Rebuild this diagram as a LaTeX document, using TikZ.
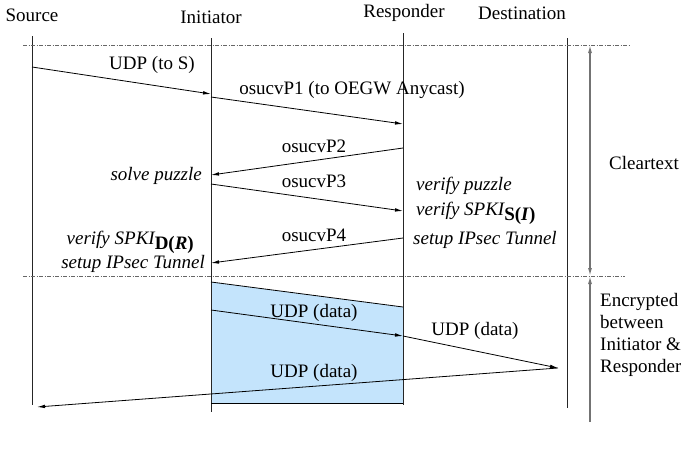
\documentclass[tikz,border=0pt]{standalone}
\usepackage{fontspec}
\setmainfont{Liberation Serif}
\usetikzlibrary{arrows.meta}
\definecolor{boxblue}{RGB}{196,228,252}
\begin{document}
\begin{tikzpicture}[x=1pt,y=-1pt,
  every node/.style={font=\fontsize{19}{22}\selectfont, inner sep=0pt},
  life/.style={line width=0.9pt, black!85},
  msg/.style={line width=0.8pt, -{Latex[length=8pt,width=3.6pt]}},
  plain/.style={line width=0.8pt},
  sepline/.style={line width=0.7pt, black!60, dash pattern=on 4pt off 1.5pt on 1pt off 1.5pt},
  spanarrow/.style={line width=1.3pt, black!55},
  act/.style={font=\fontsize{19}{22}\selectfont\itshape}]
\useasboundingbox (0,0) rectangle (681,450);

% blue encrypted region
\fill[boxblue] (211,282) -- (403,307) -- (403,403) -- (211,403) -- cycle;

% entity labels
\node (src) at (32,15) {Source};
\node (ini) at (211,17) {Initiator};
\node (res) at (404,13) {Responder};
\node (dst) at (522,13) {Destination};

% lifelines
\coordinate (srcT) at (32,36);  \coordinate (srcB) at (32,405);
\coordinate (iniT) at (211,38); \coordinate (iniB) at (211,412);
\coordinate (resT) at (403,33); \coordinate (resB) at (403,405);
\coordinate (dstT) at (567,38); \coordinate (dstB) at (567,408);
\draw[life] (srcT) -- (srcB);
\draw[life] (iniT) -- (iniB);
\draw[life] (resT) -- (resB);
\draw[life] (dstT) -- (dstB);

% separators
\coordinate (sepAL) at (23,45);  \coordinate (sepAR) at (630,45);
\coordinate (sepBL) at (23,276); \coordinate (sepBR) at (625,276);
\draw[sepline] (sepAL) -- (sepAR);
\draw[sepline] (sepBL) -- (sepBR);

% span arrows
\coordinate (spT) at (590,45); \coordinate (spM) at (590,276); \coordinate (spB) at (590,422);
\draw[spanarrow, {Latex[length=8pt,width=4pt]}-{Latex[length=8pt,width=4pt]}] (spT) -- (spM);
\draw[spanarrow, -{Latex[length=8pt,width=4pt]}] (spB) -- (spM);
\node[anchor=west] (clear) at (609,163) {Cleartext};
\node[anchor=north west, align=left] (enc) at (600,293) {Encrypted\\between\\Initiator \&\\Responder};

% messages
\coordinate (m1a) at (32,67);  \coordinate (m1b) at (211,94);
\draw[msg] (m1a) -- (m1b);
\node (l1) at (152,65) {UDP (to S)};

\coordinate (m2a) at (211,97); \coordinate (m2b) at (403,124);
\draw[msg] (m2a) -- (m2b);
\node (l2) at (352,90) {osucvP1 (to OEGW Anycast)};

\coordinate (m3a) at (403,148); \coordinate (m3b) at (211,175);
\draw[msg] (m3a) -- (m3b);
\node (l3) at (314,146) {osucvP2};

\node[act, anchor=east] (solve) at (202,176) {solve puzzle};

\coordinate (m4a) at (211,184); \coordinate (m4b) at (403,211);
\draw[msg] (m4a) -- (m4b);
\node (l4) at (314,181) {osucvP3};

\node[act, anchor=west] (vp) at (416,186) {verify puzzle};
\node[act, anchor=west] (vs) at (416,213) {verify SPKI\raisebox{-5pt}{\textbf{\textup{S(}\textit{I}\textup{)}}}};
\node[act, anchor=west] (st1) at (413,240) {setup IPsec Tunnel};

\coordinate (m5a) at (403,238); \coordinate (m5b) at (211,263);
\draw[msg] (m5a) -- (m5b);
\node (l5) at (314,235) {osucvP4};

\node[act, anchor=east] (vd) at (194,242) {verify SPKI\raisebox{-5pt}{\textbf{\textup{D(}\textit{R}\textup{)}}}};
\node[act, anchor=east] (st2) at (205,264) {setup IPsec Tunnel};

% encrypted box edges
\coordinate (bxA) at (211,282); \coordinate (bxB) at (403,307);
\coordinate (bxC) at (211,403); \coordinate (bxD) at (403,403);
\draw[plain] (bxA) -- (bxB);
\draw[plain] (bxC) -- (bxD);

% data messages
\coordinate (d1a) at (211,310); \coordinate (d1b) at (403,336);
\draw[msg] (d1a) -- (d1b);
\node (ld1) at (314,313) {UDP (data)};

\coordinate (d2b) at (558,368);
\draw[msg] (d1b) -- (d2b);
\node (ld2) at (475,331) {UDP (data)};

\coordinate (d3b) at (37,407);
\draw[msg] (d2b) -- (d3b);
\node (ld3) at (314,373) {UDP (data)};
\end{tikzpicture}
\end{document}
